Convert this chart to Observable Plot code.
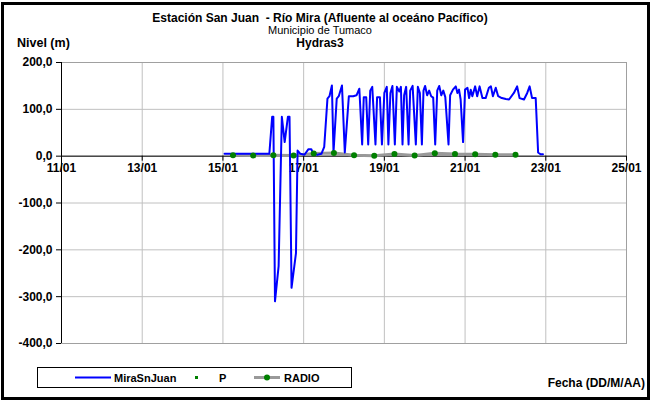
<!DOCTYPE html>
<html><head><meta charset="utf-8">
<script src="https://cdn.jsdelivr.net/npm/d3@7"></script>
<script src="https://cdn.jsdelivr.net/npm/@observablehq/plot@0.6"></script>
<style>
body{margin:0;background:#fff;font-family:"Liberation Sans",Arial,sans-serif;}
#wrap{position:relative;width:651px;height:401px;overflow:hidden;background:#fff;}
#border{position:absolute;left:1px;top:2px;width:643px;height:392px;border:3px solid #000;pointer-events:none;}
.t{position:absolute;white-space:nowrap;color:#000;line-height:1;}
.b{font-weight:bold;}
#legend{position:absolute;left:37px;top:367px;width:313px;height:19px;border:1px solid #000;font-size:11px;font-weight:bold;}
#legend span{position:absolute;top:4px;}
</style></head><body>
<div id="wrap">
<div id="chart" style="position:absolute;left:0;top:0"></div>
<div class="t b" style="left:0;width:640px;top:12px;text-align:center;font-size:12px">Estación San Juan&nbsp; - Río Mira (Afluente al oceáno Pacífico)</div>
<div class="t" style="left:0;width:640px;top:25px;text-align:center;font-size:11px">Municipio de Tumaco</div>
<div class="t b" style="left:0;width:640px;top:37px;text-align:center;font-size:12px">Hydras3</div>
<div class="t b" style="left:17px;top:37px;font-size:12.5px">Nivel (m)</div>
<div class="t b" style="right:6px;top:377px;font-size:12px">Fecha (DD/M/AA)</div>
<div id="legend">
  <svg width="313" height="19" style="position:absolute;left:0;top:0">
    <line x1="37" x2="73" y1="9.5" y2="9.5" stroke="#0000ff" stroke-width="2"/>
    <rect x="157" y="8" width="3" height="3" fill="#008000"/>
    <line x1="216" x2="242" y1="9.5" y2="9.5" stroke="#999" stroke-width="3"/>
    <circle cx="229" cy="9.5" r="3" fill="#008000"/>
  </svg>
  <span style="left:76px">MiraSnJuan</span>
  <span style="left:181px">P</span>
  <span style="left:246px">RADIO</span>
</div>
<div id="border"></div>
</div>
<script>
// MiraSnJuan series (day of January, level in m)
const miraDays = [15.04,16.15,16.22,16.25,16.29,16.38,16.46,16.53,16.61,16.65,16.70,16.81,16.85,16.92,17.02,17.12,17.19,17.24,17.34,17.44,17.51,17.59,17.64,17.70,17.74,17.82,17.87,17.95,18.02,18.12,18.23,18.31,18.38,18.45,18.49,18.55,18.60,18.65,18.70,18.78,18.82,18.89,18.94,19.00,19.06,19.10,19.15,19.20,19.26,19.31,19.37,19.41,19.45,19.49,19.54,19.60,19.64,19.70,19.78,19.83,19.88,19.93,19.97,20.01,20.06,20.11,20.16,20.21,20.26,20.31,20.36,20.41,20.46,20.51,20.59,20.63,20.70,20.77,20.81,20.85,20.89,20.95,21.00,21.06,21.10,21.14,21.18,21.25,21.30,21.36,21.43,21.51,21.59,21.64,21.69,21.76,21.82,21.91,22.01,22.09,22.21,22.29,22.35,22.46,22.54,22.60,22.66,22.75,22.81,22.87,22.93];
const miraLevels = [5,5,84,84,-310,-235,84,30,84,84,-281,-207,12,5,3,15,15,5,3,5,20,123,128,151,8,123,128,151,8,128,128,130,144,25,126,126,25,140,148,25,126,126,25,135,148,25,135,150,25,148,138,148,25,130,148,25,140,150,25,148,135,25,140,150,130,140,128,125,25,140,150,130,140,126,25,130,142,149,135,142,121,30,142,146,124,142,128,149,128,149,124,124,146,149,128,146,128,124,122,121,135,149,124,121,135,149,124,124,8,4,4];
// RADIO series
const radioDays = [15.25,15.75,16.25,16.75,17.25,17.75,18.25,18.75,19.25,19.75,20.25,20.75,21.25,21.75,22.25];
const radioLevels = [2,1.5,2,1.5,5.5,7,2,1,4.5,1.5,6,4.5,4,3,3];
// axis ticks
const xTicks = [11,13,15,17,19,21,23,25];
const xTickLabels = ["11/01","13/01","15/01","17/01","19/01","21/01","23/01","25/01"];
const yTicks = [-400,-300,-200,-100,0,100,200];

const mira = miraDays.map((d,i)=>({d, v: miraLevels[i]}));
const radio = radioDays.map((d,i)=>({d, v: radioLevels[i]}));
const xt = xTicks.map((d,i)=>({d, label: xTickLabels[i]}));

const chart = Plot.plot({
  width: 651, height: 401,
  marginLeft: 61, marginRight: 25, marginTop: 62, marginBottom: 58,
  style: {fontFamily: "'Liberation Sans', Arial, sans-serif", fontSize: "12px", fontWeight: "bold", color: "#000", background: "transparent"},
  x: {domain: [11, 25], axis: null},
  y: {domain: [-400, 200], axis: null},
  marks: [
    Plot.gridY(yTicks, {stroke: "#c0c0c0", strokeOpacity: 1}),
    Plot.gridX(xTicks, {stroke: "#c0c0c0", strokeOpacity: 1}),
    Plot.frame({stroke: "#a0a0a0"}),
    Plot.axisY(yTicks, {tickSize: 5, tickPadding: 4, tickFormat: d => d.toFixed(1).replace(".", ","), fontWeight: "bold", fontSize: 12, label: null, stroke: "#000"}),
    Plot.ruleX([11], {stroke: "#000"}),
    Plot.ruleY([0], {stroke: "#000"}),
    Plot.ruleX(xt, {x: "d", y1: 0, y2: 0, insetBottom: -5, stroke: "#000"}),
    Plot.text(xt, {x: "d", y: 0, text: "label", dy: 12, fontWeight: "bold", fontSize: 12, fill: "#000"}),
    Plot.line(radio, {x: "d", y: "v", stroke: "#999", strokeWidth: 3}),
    Plot.line(mira, {x: "d", y: "v", stroke: "#0000ff", strokeWidth: 2}),
    Plot.dot(radio, {x: "d", y: "v", fill: "#008000", r: 3})
  ]
});
document.getElementById("chart").appendChild(chart);
</script>
</body></html>
